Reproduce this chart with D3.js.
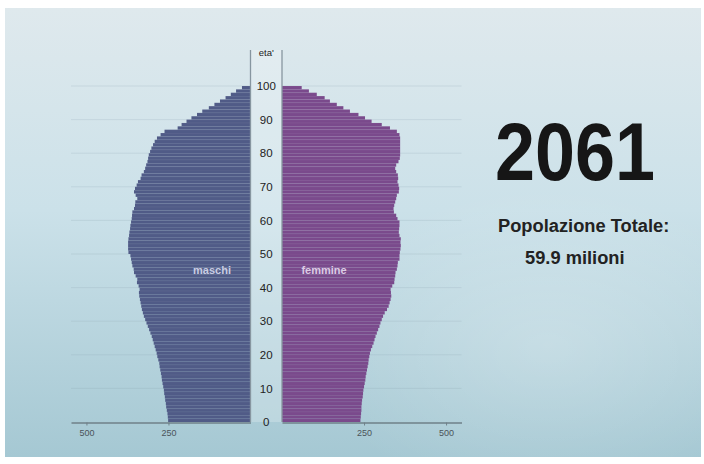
<!DOCTYPE html>
<html><head><meta charset="utf-8">
<script src="https://cdn.jsdelivr.net/npm/d3@7"></script>
<style>html,body{margin:0;padding:0;background:#fff;}svg{display:block;}</style>
</head><body>
<svg id="c" width="704" height="464"></svg>
<script>
// ---- data (thousands of people, age 0..99) ----
const ages = d3.range(0, 100);
const maschi = [251,252,253,255,257,258,260,261,263,264,266,268,270,271,273,275,277,278,281,284,
286,289,292,295,298,301,305,309,313,317,321,325,328,331,333,335,337,339,340,338,
341,346,345,350,355,356,360,362,364,366,372,373,373,373,372,370,369,367,366,364,
362,361,360,355,352,351,345,350,355,352,347,343,335,332,325,321,318,314,312,310,
306,302,297,292,285,274,262,222,210,195,180,163,147,127,110,93,76,60,44,26];
const femmine = [239,240,241,242,242,243,244,246,247,248,250,252,254,255,257,259,261,263,264,266,
268,271,275,279,282,285,289,293,297,300,304,308,313,320,325,328,331,333,332,331,
336,342,343,345,346,350,352,353,358,358,359,361,362,361,362,358,356,357,358,358,
352,348,341,340,342,345,348,350,356,357,355,352,354,353,348,345,348,355,359,360,
360,360,360,360,360,358,350,329,304,273,253,233,207,187,167,146,130,106,82,60];
const ageTicks = [0,10,20,30,40,50,60,70,80,90,100];
const valueTicks = [250,500];
const year = "2061";
const totalLabel = "Popolazione Totale:";
const totalValue = "59.9 milioni";

const svg = d3.select("#c");
const defs = svg.append("defs");
const bg = defs.append("linearGradient").attr("id","bg").attr("x1",0).attr("y1",0).attr("x2",0).attr("y2",1);
bg.append("stop").attr("offset","0").attr("stop-color","#dfe9ed");
bg.append("stop").attr("offset","0.45").attr("stop-color","#cbe1e9");
bg.append("stop").attr("offset","1").attr("stop-color","#a5c8d3");
const hl = defs.append("radialGradient").attr("id","hl").attr("cx","0.78").attr("cy","0.75").attr("r","0.35");
hl.append("stop").attr("offset","0").attr("stop-color","#ffffff").attr("stop-opacity",0.22);
hl.append("stop").attr("offset","1").attr("stop-color","#ffffff").attr("stop-opacity",0);

svg.append("rect").attr("x",5).attr("y",8).attr("width",696).attr("height",449).attr("fill","url(#bg)");
svg.append("rect").attr("x",5).attr("y",8).attr("width",696).attr("height",449).attr("fill","url(#hl)");

const y = d3.scaleLinear().domain([0,100]).range([422,86]);
const xL = d3.scaleLinear().domain([0,547]).range([250.5,71]);
const xR = d3.scaleLinear().domain([0,547]).range([282,461.5]);

// gridlines
const g = svg.append("g");
ageTicks.filter(a=>a>0).forEach(a=>{
  g.append("line").attr("x1",xL.range()[1]).attr("x2",xL(0)).attr("y1",y(a)).attr("y2",y(a))
   .attr("stroke","#8ea6b0").attr("stroke-opacity",0.22).attr("stroke-width",1);
  g.append("line").attr("x1",xR(0)).attr("x2",xR.range()[1]).attr("y1",y(a)).attr("y2",y(a))
   .attr("stroke","#8ea6b0").attr("stroke-opacity",0.22).attr("stroke-width",1);
});

// central column
svg.append("rect").attr("x",xL(0)).attr("y",50).attr("width",xR(0)-xL(0)).attr("height",y(0)-50)
  .attr("fill","#ffffff").attr("fill-opacity",0.22);

// bars
const bh = y(0)-y(1);
svg.append("g").selectAll("rect").data(ages).join("rect")
  .attr("x", a=>xL(maschi[a])).attr("y", a=>y(a+1)).attr("width", a=>xL(0)-xL(maschi[a])).attr("height", bh)
  .attr("fill","#505b87");
svg.append("g").selectAll("rect").data(ages).join("rect")
  .attr("x", xR(0)).attr("y", a=>y(a+1)).attr("width", a=>xR(femmine[a])-xR(0)).attr("height", bh)
  .attr("fill","#7a4a8c");
// thin stripes
svg.append("g").selectAll("line").data(ages).join("line")
  .attr("x1", a=>xL(maschi[a])).attr("x2", xL(0)).attr("y1", a=>y(a+1)+0.3).attr("y2", a=>y(a+1)+0.3)
  .attr("stroke","#ffffff").attr("stroke-opacity",0.06).attr("stroke-width",0.6);
svg.append("g").selectAll("line").data(ages).join("line")
  .attr("x1", xR(0)).attr("x2", a=>xR(femmine[a])).attr("y1", a=>y(a+1)+0.3).attr("y2", a=>y(a+1)+0.3)
  .attr("stroke","#ffffff").attr("stroke-opacity",0.06).attr("stroke-width",0.6);

// column borders
[xL(0), xR(0)].forEach(x=>{
  svg.append("line").attr("x1",x).attr("x2",x).attr("y1",50).attr("y2",y(0))
    .attr("stroke","#8796a0").attr("stroke-width",1.3);
});

// age labels
svg.append("g").selectAll("text").data(ageTicks).join("text")
  .attr("x",(xL(0)+xR(0))/2).attr("y",a=>y(a)+4.2).attr("text-anchor","middle")
  .attr("font-family","Liberation Sans, Arial, sans-serif").attr("font-size",11.5).attr("fill","#222")
  .text(a=>a);
svg.append("text").attr("x",(xL(0)+xR(0))/2).attr("y",56).attr("text-anchor","middle")
  .attr("font-family","Liberation Sans, Arial, sans-serif").attr("font-size",9.5).attr("fill","#222").text("eta'");

// axes
function styleAxis(sel){
  sel.selectAll(".domain").attr("stroke","#6f8089").attr("stroke-width",1.5);
  sel.selectAll(".tick line").attr("stroke","#6f8089");
  sel.selectAll("text").attr("font-family","Liberation Sans Narrow, Liberation Sans, Arial, sans-serif")
    .attr("font-size",9).attr("fill","#4a545a");
}
svg.append("g").attr("transform",`translate(0,${y(0)+0.5})`)
  .call(d3.axisBottom(xL).tickValues(valueTicks).tickSize(3).tickSizeOuter(0).tickPadding(4)).call(styleAxis);
svg.append("g").attr("transform",`translate(0,${y(0)+0.5})`)
  .call(d3.axisBottom(xR).tickValues(valueTicks).tickSize(3).tickSizeOuter(0).tickPadding(4)).call(styleAxis);

// series labels
svg.append("text").attr("x",212).attr("y",274).attr("text-anchor","middle")
  .attr("font-family","Liberation Sans, Arial, sans-serif").attr("font-weight","bold").attr("font-size",11)
  .attr("fill","#c9cde2").text("maschi");
svg.append("text").attr("x",324).attr("y",274).attr("text-anchor","middle")
  .attr("font-family","Liberation Sans, Arial, sans-serif").attr("font-weight","bold").attr("font-size",11)
  .attr("fill","#dccbe4").text("femmine");

// right texts
svg.append("text").attr("x",495).attr("y",180).attr("textLength",160).attr("lengthAdjust","spacingAndGlyphs")
  .attr("font-family","Liberation Sans, Arial, sans-serif").attr("font-weight","bold").attr("font-size",81)
  .attr("fill","#161616").text(year);
svg.append("text").attr("x",498).attr("y",231.5)
  .attr("font-family","Liberation Sans, Arial, sans-serif").attr("font-weight","bold").attr("font-size",18.3)
  .attr("fill","#222").text(totalLabel);
svg.append("text").attr("x",525).attr("y",263.5)
  .attr("font-family","Liberation Sans, Arial, sans-serif").attr("font-weight","bold").attr("font-size",18.3)
  .attr("fill","#222").text(totalValue);
</script>
</body></html>
